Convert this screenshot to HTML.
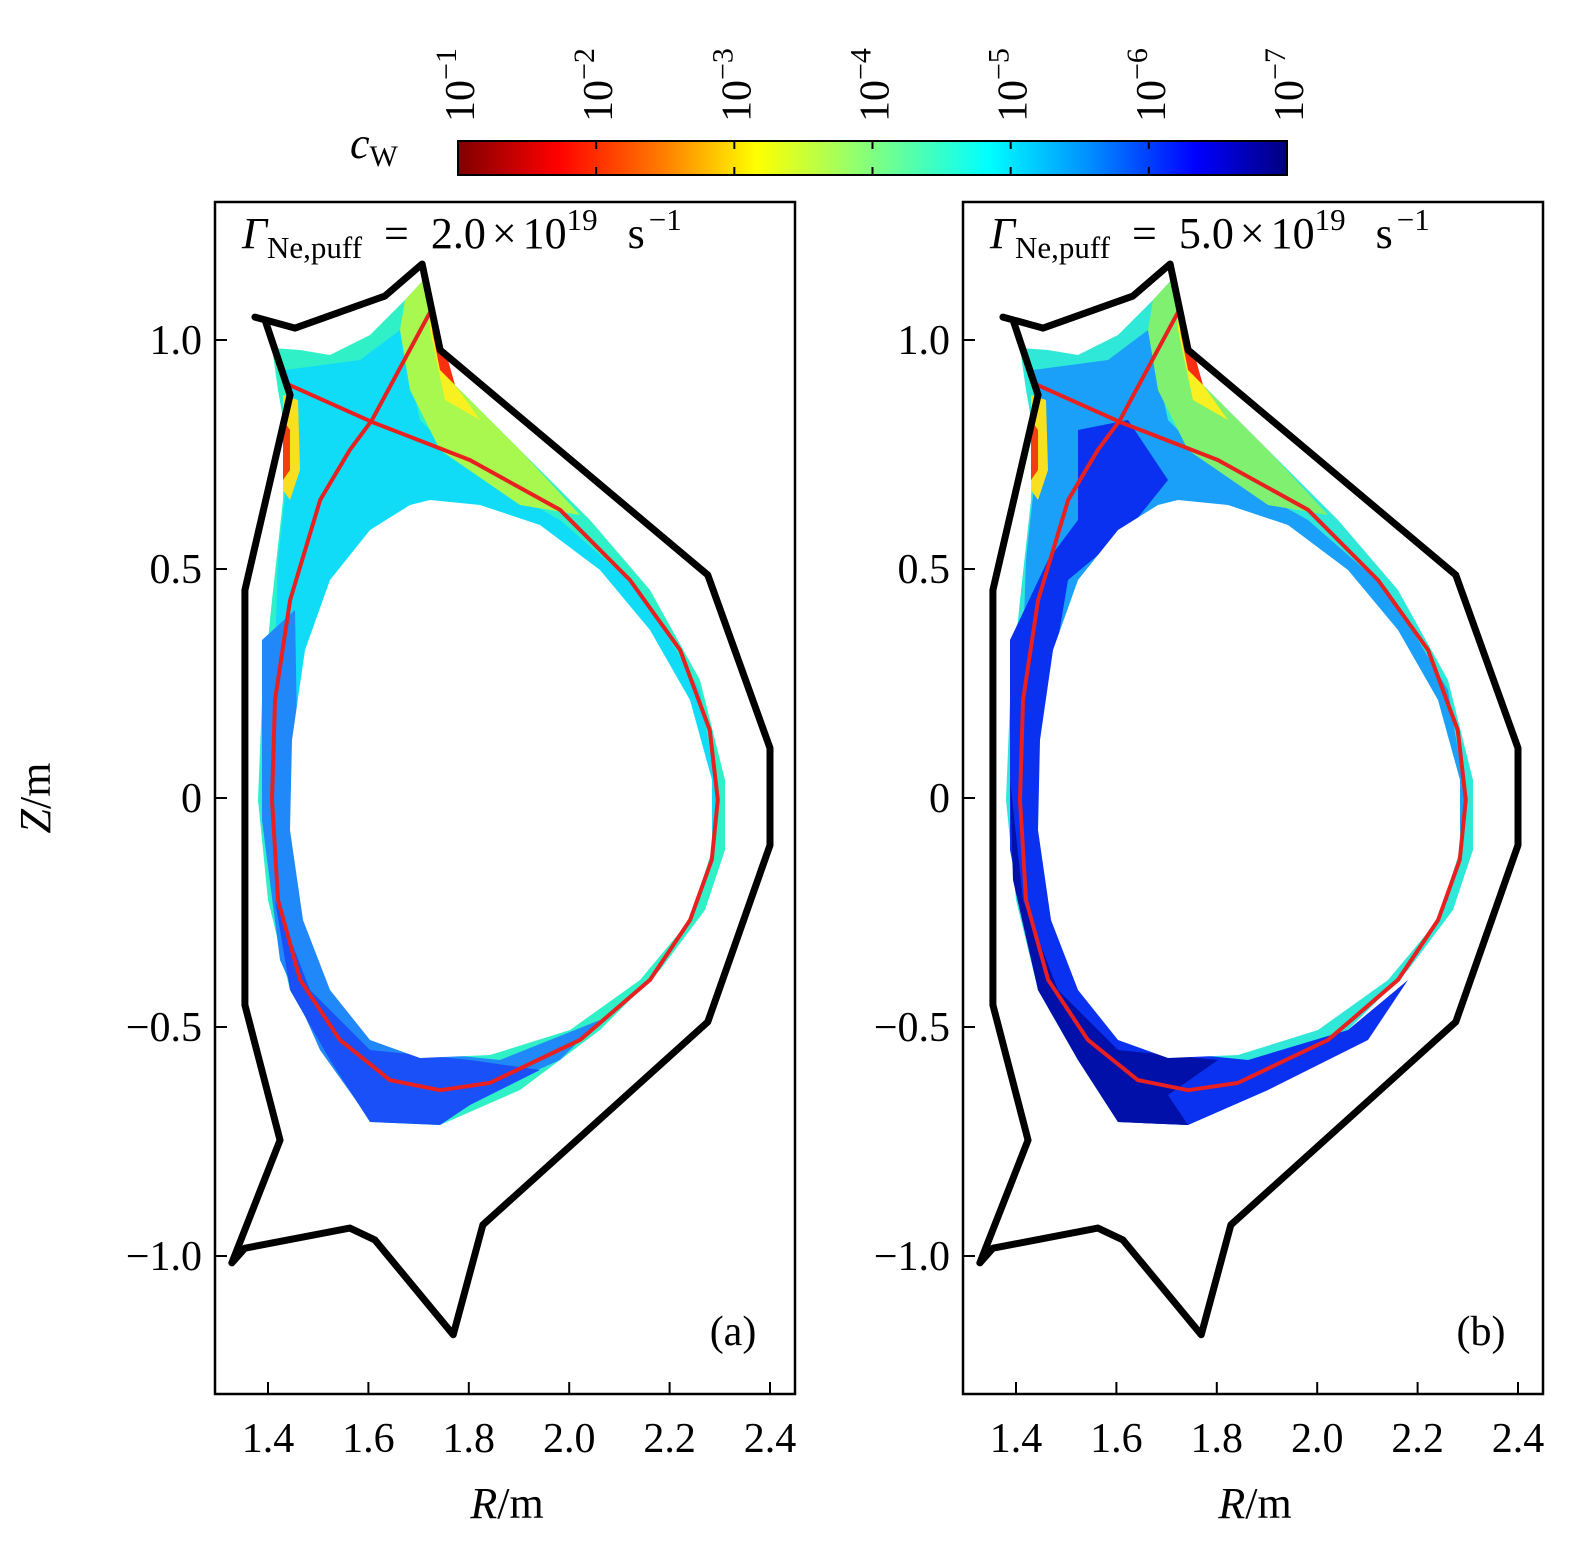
<!DOCTYPE html>
<html><head><meta charset="utf-8"><style>
html,body{margin:0;padding:0;background:#fff}
svg{display:block;font-family:"Liberation Serif","DejaVu Serif",serif}
</style></head><body>
<svg id="fig" width="1575" height="1546" viewBox="0 0 1575 1546" xmlns="http://www.w3.org/2000/svg">
<defs>
<linearGradient id="jet" x1="0" x2="1" y1="0" y2="0">
<stop offset="0" stop-color="#7f0000"/><stop offset="0.12" stop-color="#ff0000"/>
<stop offset="0.25" stop-color="#ff8000"/><stop offset="0.36" stop-color="#ffff00"/>
<stop offset="0.5" stop-color="#80ff80"/><stop offset="0.64" stop-color="#00ffff"/>
<stop offset="0.76" stop-color="#0090ff"/><stop offset="0.89" stop-color="#0000ff"/>
<stop offset="1" stop-color="#00007f"/></linearGradient>
</defs>
<g id="cbar"></g>
<g id="pa"></g>
<g id="pb" transform="translate(748,0)"></g>
<text x="40" y="798" font-size="44" font-style="italic" text-anchor="middle" transform="rotate(-90 40 798)" dominant-baseline="middle">Z<tspan font-style="normal">/m</tspan></text>
</svg>
<script>
const cbExponents=[-1,-2,-3,-4,-5,-6,-7];
const xTicks=[1.4,1.6,1.8,2.0,2.2,2.4];
const yTicks=[1.0,0.5,0,-0.5,-1.0];
const wallR=[1.374,1.454,1.633,1.707,1.743,2.276,2.400,2.400,2.276,1.828,1.769,1.613,1.563,1.354,1.328,1.424,1.354,1.354,1.444,1.394];
const wallZ=[1.050,1.026,1.096,1.166,0.978,0.487,0.109,-0.103,-0.489,-0.932,-1.172,-0.965,-0.939,-0.983,-1.015,-0.747,-0.452,0.454,0.880,1.044];
const sepR=[1.434,1.607,1.802,1.982,2.121,2.221,2.280,2.296,2.284,2.241,2.161,2.022,1.842,1.743,1.643,1.543,1.464,1.420,1.408,1.414,1.444,1.504,1.563,1.607,1.723];
const sepZ=[0.906,0.821,0.738,0.629,0.476,0.323,0.148,-0.004,-0.135,-0.266,-0.397,-0.528,-0.622,-0.638,-0.616,-0.528,-0.397,-0.223,-0.004,0.214,0.432,0.651,0.760,0.825,1.061];
const NS="http://www.w3.org/2000/svg";
const X=r=>268+(r-1.4)*502, Y=z=>798-z*458;
function mk(p,t,a){const e=document.createElementNS(NS,t);for(const k in a)e.setAttribute(k,a[k]);p.appendChild(e);return e;}
const cb=document.getElementById('cbar');
const cbX=e=>458+(-1-e)*(1287-458)/6;
let r0=mk(cb,'rect',{x:458,y:141,width:829,height:34,fill:'url(#jet)',stroke:'#000','stroke-width':2});

cbExponents.forEach(e=>{const x=cbX(e);
 mk(cb,'line',{x1:x,y1:141,x2:x,y2:149,stroke:'#000','stroke-width':2});
 mk(cb,'line',{x1:x,y1:167,x2:x,y2:175,stroke:'#000','stroke-width':2});
 const t=mk(cb,'text',{x:0,y:0,'font-size':42,transform:`translate(${x+16},122) rotate(-90)`});
 
 t.innerHTML=`10<tspan dy="-18" font-size="30">−${-e}</tspan>`;});
const cl=mk(cb,'text',{x:350,y:158,'font-size':44,'font-style':'italic'});

cl.innerHTML='c<tspan font-size="30" font-style="normal" dy="8">W</tspan>';
const P=a=>a.map(p=>p.join(',')).join(' ');
function panel(g,label,flux,variant){
 const outer=[[272,348],[300,350],[330,355],[370,335],[405,300],[428,275],[440,350],[455,385],[520,450],[590,520],[650,590],[700,680],[725,780],[725,850],[705,910],[660,970],[600,1030],[520,1090],[440,1125],[370,1122],[330,1060],[290,990],[268,900],[258,800],[262,700],[272,600],[283,500],[285,430],[278,390]];
 const core=[[430,500],[480,505],[540,525],[600,570],[650,630],[690,700],[712,780],[712,850],[690,920],[640,980],[570,1030],[490,1055],[420,1058],[370,1040],[330,990],[303,920],[290,830],[292,740],[305,650],[330,580],[370,530],[410,505]];
 let o=mk(g,'polygon',{points:P(outer),fill:variant?'#30e8d8':'#30f0c8'});
 
 mk(g,'polygon',{points:P([[285,370],[360,360],[400,330],[420,420],[470,470],[560,520],[640,590],[700,690],[718,800],[700,900],[600,1000],[400,1060],[300,950],[270,800],[278,560],[290,450]]),fill:variant?'#1aa0f8':'#10dcf8'});
 if(!variant){
  mk(g,'polygon',{points:P([[262,640],[295,610],[300,900],[340,1000],[400,1050],[500,1060],[600,1020],[560,1060],[470,1100],[370,1120],[320,1050],[280,960],[262,820]]),fill:'#2088f8'});
  mk(g,'polygon',{points:P([[275,900],[310,990],[370,1050],[470,1060],[540,1070],[470,1105],[440,1125],[370,1122],[330,1060],[290,990]]),fill:'#1a50f8'});
 } else {
  mk(g,'polygon',{points:P([[262,640],[300,560],[330,520],[330,430],[380,420],[420,480],[380,530],[320,580],[300,700],[300,900],[340,1000],[400,1050],[500,1060],[600,1030],[660,980],[620,1040],[520,1090],[440,1125],[370,1122],[330,1060],[290,990],[262,850]]),fill:'#0a30f0'});
  mk(g,'polygon',{points:P([[262,780],[275,900],[310,990],[370,1050],[470,1060],[420,1095],[440,1125],[370,1122],[330,1060],[290,990],[265,880]]),fill:'#0010a8'});
 }
 mk(g,'polygon',{points:P([[405,300],[428,275],[440,350],[455,385],[520,450],[580,515],[520,505],[440,450],[410,390],[400,330]]),fill:variant?'#80f070':'#a8f850'});
 mk(g,'polygon',{points:P([[428,285],[440,350],[455,385],[480,420],[445,400],[430,330]]),fill:'#f8f020'});
 mk(g,'polygon',{points:P([[432,330],[448,360],[455,385],[440,370]]),fill:'#f83010'});
 mk(g,'polygon',{points:P([[283,395],[298,400],[300,470],[290,500],[283,490]]),fill:'#f8e020'});
 mk(g,'polygon',{points:P([[283,420],[290,430],[290,470],[283,480]]),fill:'#f04010'});
 let c=mk(g,'polygon',{points:P(core),fill:'#fff'});
 
 let s=mk(g,'polyline',{points:sepR.map((r,i)=>X(r)+','+Y(sepZ[i])).join(' '),fill:'none',stroke:'#e82020','stroke-width':4,'stroke-linejoin':'round'});
 
 let w=mk(g,'polygon',{points:wallR.map((r,i)=>X(r)+','+Y(wallZ[i])).join(' '),fill:'none',stroke:'#000','stroke-width':7,'stroke-linejoin':'round'});
 
 let f=mk(g,'rect',{x:215,y:202,width:580,height:1192,fill:'none',stroke:'#000','stroke-width':2.5});
 
 xTicks.forEach(v=>{const x=X(v);
  mk(g,'line',{x1:x,y1:1394,x2:x,y2:1382,stroke:'#000','stroke-width':2});
  const t=mk(g,'text',{x:x,y:1452,'font-size':42,'text-anchor':'middle'});t.textContent=v.toFixed(1);
  });
 yTicks.forEach(v=>{const y=Y(v);
  mk(g,'line',{x1:215,y1:y,x2:227,y2:y,stroke:'#000','stroke-width':2});
  const t=mk(g,'text',{x:202,y:y+14,'font-size':42,'text-anchor':'end'});t.textContent=(v<0?'−':'')+Math.abs(v).toFixed(v===0?0:1);
  });
 const xt=mk(g,'text',{x:507,y:1518,'font-size':44,'text-anchor':'middle','font-style':'italic'});
 xt.innerHTML='R<tspan font-style="normal">/m</tspan>';
 
 const tt=mk(g,'text',{x:242,y:248,'font-size':44});
 tt.innerHTML=`<tspan font-style="italic">Γ</tspan><tspan font-size="31" dy="10">Ne,puff</tspan><tspan dy="-10" dx="22">=</tspan><tspan dx="22">${flux}</tspan><tspan dx="6">×</tspan><tspan dx="6">10</tspan><tspan font-size="31" dy="-18">19</tspan><tspan dy="18" dx="30">s</tspan><tspan font-size="31" dy="-18" dx="4">−1</tspan>`;
 
 const pl=mk(g,'text',{x:733,y:1345,'font-size':42,'text-anchor':'middle'});pl.textContent=label;
 
}
panel(document.getElementById('pa'),'(a)','2.0',0);
panel(document.getElementById('pb'),'(b)','5.0',1);
</script>
</body></html>
